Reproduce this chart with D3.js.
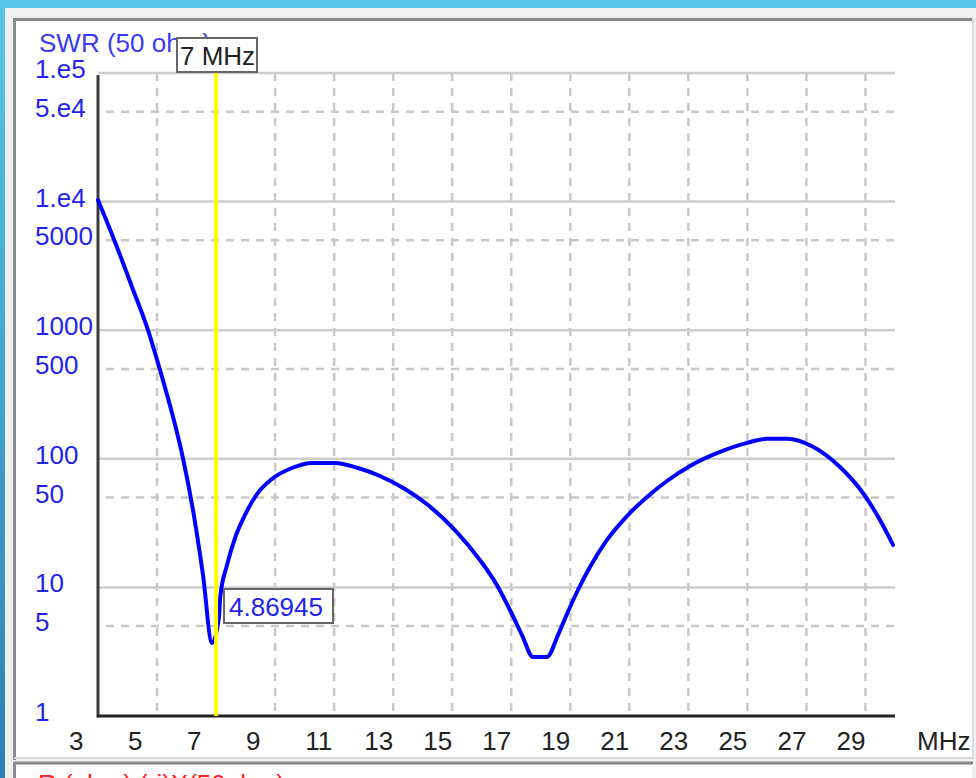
<!DOCTYPE html>
<html>
<head>
<meta charset="utf-8">
<script src="https://cdn.jsdelivr.net/npm/d3@7"></script>
<style>
  body { margin: 0; background: #f0f0f0; }
  svg { display: block; }
  text { font-family: "Liberation Sans", Arial, sans-serif; font-size: 26px; }
</style>
</head>
<body>
<svg width="976" height="778"></svg>
<script>
// SWR sweep (MHz, SWR)
const freqMHz = [3.0, 3.576, 4.152, 4.694, 5.10, 5.507, 5.879, 6.218, 6.557, 6.862,
    7.10, 7.14, 7.37, 7.641, 7.98, 8.386, 8.894, 9.572, 10.249, 11.028, 11.808, 12.553,
    13.40, 14.179, 15.093, 15.94, 16.516, 16.957, 17.363, 17.736, 18.21, 18.583, 18.888,
    19.226, 19.667, 20.243, 20.921, 21.598, 22.276, 23.055, 24.071, 24.985, 25.663,
    26.34, 27.221, 28.136, 28.915, 29.491, 29.932];
const swrValues = [10290, 4850, 2170, 1000, 490, 227, 101, 40, 12.5, 3.7,
    5.9, 8.4, 14.9, 24.2, 36.6, 53.2, 69.7, 84.8, 92.8, 92.8, 84.8, 73.5,
    58.2, 43.7, 27.9, 16.3, 10.4, 6.67, 4.26, 2.88, 2.88, 4.26, 6.21,
    9.21, 14.4, 23.4, 35.9, 50.5, 67.2, 87.9, 113, 133, 143,
    143, 124, 86.3, 54.2, 33.4, 21.4];

const xTicks = [3, 5, 7, 9, 11, 13, 15, 17, 19, 21, 23, 25, 27, 29];
const xGrid = [5, 7, 9, 11, 13, 15, 17, 19, 21, 23, 25, 27, 29];
const yTicks = [1e5, 5e4, 1e4, 5000, 1000, 500, 100, 50, 10, 5, 1];
const yTickLabels = ["1.e5", "5.e4", "1.e4", "5000", "1000", "500", "100", "50", "10", "5", "1"];
const yDecades = [1e5, 1e4, 1000, 100, 10];
const yHalves = [5e4, 5000, 500, 50, 5];

const markerFreq = 7;
const markerText = "7 MHz";
const markerValue = "4.86945";

const svg = d3.select("svg");

// window chrome
const grad = svg.append("defs").append("linearGradient")
    .attr("id", "edge").attr("x1", 0).attr("y1", 0).attr("x2", 0).attr("y2", 1);
grad.append("stop").attr("offset", "0%").attr("stop-color", "#58c6e6");
grad.append("stop").attr("offset", "100%").attr("stop-color", "#2a80b2");
svg.append("rect").attr("x", 0).attr("y", 0).attr("width", 976).attr("height", 8).attr("fill", "#58c6e6");
svg.append("rect").attr("x", 0).attr("y", 0).attr("width", 5).attr("height", 778).attr("fill", "url(#edge)");

// chart panel
svg.append("rect").attr("x", 16).attr("y", 21).attr("width", 956).attr("height", 736).attr("fill", "#fff");
svg.append("line").attr("x1", 14).attr("x2", 973).attr("y1", 19.5).attr("y2", 19.5).attr("stroke", "#8a8a8a").attr("stroke-width", 3);
svg.append("line").attr("x1", 14.5).attr("x2", 14.5).attr("y1", 18).attr("y2", 760).attr("stroke", "#8a8a8a").attr("stroke-width", 3);
svg.append("line").attr("x1", 973).attr("x2", 973).attr("y1", 18).attr("y2", 758).attr("stroke", "#dcdcdc").attr("stroke-width", 2);
svg.append("line").attr("x1", 14).attr("x2", 974).attr("y1", 758).attr("y2", 758).attr("stroke", "#d8d8d8").attr("stroke-width", 2);

// second panel below (cut off)
svg.append("rect").attr("x", 16).attr("y", 765).attr("width", 956).attr("height", 20).attr("fill", "#fff");
svg.append("line").attr("x1", 14).attr("x2", 973).attr("y1", 763).attr("y2", 763).attr("stroke", "#8a8a8a").attr("stroke-width", 3);
svg.append("line").attr("x1", 14.5).attr("x2", 14.5).attr("y1", 762).attr("y2", 778).attr("stroke", "#8a8a8a").attr("stroke-width", 3);
svg.append("text").attr("x", 38).attr("y", 793).attr("fill", "#ff2020")
    .text("R (ohm)   (-j)X(50ohm)");

const x = d3.scaleLinear().domain([3, 30]).range([98, 895]);
const y = d3.scaleLog().domain([1, 1e5]).range([716, 73]);

// grid
const grid = svg.append("g");
grid.selectAll(".vg").data(xGrid).join("line")
    .attr("x1", d => x(d)).attr("x2", d => x(d))
    .attr("y1", y(1e5)).attr("y2", y(1))
    .attr("stroke", "#c8c8c8").attr("stroke-width", 2.5)
    .attr("stroke-dasharray", "8,7");
grid.selectAll(".hd").data(yHalves).join("line")
    .attr("x1", x(3) + 8).attr("x2", x(30))
    .attr("y1", d => y(d)).attr("y2", d => y(d))
    .attr("stroke", "#c8c8c8").attr("stroke-width", 2.5)
    .attr("stroke-dasharray", "8,7");
grid.selectAll(".hs").data(yDecades).join("line")
    .attr("x1", x(3)).attr("x2", x(30))
    .attr("y1", d => y(d)).attr("y2", d => y(d))
    .attr("stroke", "#cdcdcd").attr("stroke-width", 2.5);

// axes
svg.append("line").attr("x1", x(3)).attr("x2", x(3)).attr("y1", y(1e5) + 2).attr("y2", y(1) + 1.5)
    .attr("stroke", "#3a3a3a").attr("stroke-width", 3);
svg.append("line").attr("x1", x(3) - 1).attr("x2", x(30)).attr("y1", y(1)).attr("y2", y(1))
    .attr("stroke", "#222").attr("stroke-width", 3);

// tick labels
svg.append("g").selectAll("text").data(xTicks).join("text")
    .attr("x", d => x(d) - 29).attr("y", 750)
    .attr("fill", "#222")
    .text(d => d);
svg.append("text").attr("x", 917).attr("y", 750).attr("fill", "#222").text("MHz");

svg.append("g").selectAll("text").data(yTicks).join("text")
    .attr("x", 35).attr("y", d => y(d) + 5)
    .attr("fill", "#2323f0")
    .text((d, i) => yTickLabels[i]);

svg.append("text").attr("x", 39).attr("y", 52).attr("fill", "#3a3af5").text("SWR (50 ohm)");

// SWR curve
const pts = freqMHz.map((f, i) => [f, swrValues[i]]);
svg.append("path")
    .datum(pts)
    .attr("fill", "none")
    .attr("stroke", "#0000ff")
    .attr("stroke-width", 4)
    .attr("stroke-linejoin", "round")
    .attr("stroke-linecap", "round")
    .attr("d", d3.line().curve(d3.curveMonotoneX).x(d => x(d[0])).y(d => y(d[1])));

// marker
svg.append("line").attr("x1", x(markerFreq)).attr("x2", x(markerFreq))
    .attr("y1", y(1e5) - 1).attr("y2", y(1))
    .attr("stroke", "#ffff00").attr("stroke-width", 4);

svg.append("rect").attr("x", 177).attr("y", 38).attr("width", 80).attr("height", 34)
    .attr("fill", "#fff").attr("stroke", "#666").attr("stroke-width", 2);
svg.append("text").attr("x", 180).attr("y", 65).attr("fill", "#222").text(markerText);

svg.append("rect").attr("x", 224).attr("y", 589).attr("width", 109).attr("height", 34)
    .attr("fill", "#fff").attr("stroke", "#666").attr("stroke-width", 2);
svg.append("text").attr("x", 229).attr("y", 616).attr("fill", "#2323f0").text(markerValue);
</script>
</body>
</html>
